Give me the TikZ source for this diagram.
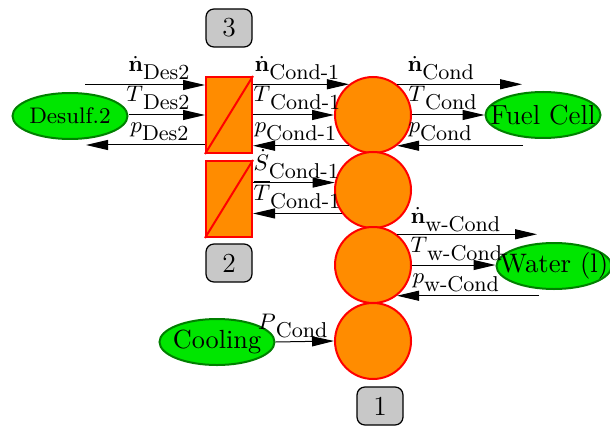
\documentclass[tikz,border=0pt]{standalone}
\usetikzlibrary{arrows.meta,shapes.geometric}
\definecolor{orng}{RGB}{255,140,0}
\definecolor{grn}{RGB}{0,230,0}
\definecolor{dgrn}{RGB}{0,128,0}
\definecolor{gbox}{RGB}{200,200,200}
\newcommand{\plbl}[2]{\raisebox{3.2pt}{\fontsize{9}{10}\selectfont$#1$}{\fontsize{8.6}{10}\selectfont #2}}
\begin{document}
\begin{tikzpicture}[x=0.4pt,y=-0.4pt,
  arr/.style={draw, line width=0.4pt, -{Triangle[length=8.8pt,width=4pt]}},
  rport/.style={inner sep=0pt, anchor=base west},
  lport/.style={inner sep=0pt, anchor=base east},
  circ/.style={circle, draw=red, fill=orng, line width=0.8pt, minimum size=30.4pt, inner sep=0pt},
  rectb/.style={rectangle, draw=red, fill=orng, line width=0.8pt, minimum width=18.4pt, minimum height=30.4pt, inner sep=0pt},
  ell/.style={ellipse, draw=dgrn, fill=grn, line width=0.8pt, minimum width=46pt, minimum height=18.4pt, inner sep=0pt},
  etxt/.style={inner sep=0pt},
  num/.style={rectangle, rounded corners=3.2pt, draw=black, fill=gbox, line width=0.5pt, minimum width=18.4pt, minimum height=15.2pt, inner sep=0pt, font=\fontsize{11}{13}\selectfont}]
\useasboundingbox (0,0) rectangle (610,425);

% numbered boxes
\node[num] (b3) at (229,28) {3};
\node[num] (b2) at (229,263) {2};
\node[num] (b1) at (380,406) {1};

% heat exchanger blocks
\node[rectb] (r1) at (229,115) {};
\draw[red, line width=0.8pt] (r1.south west) -- (r1.north east);
\node[rectb] (r2) at (229,199) {};
\draw[red, line width=0.8pt] (r2.south west) -- (r2.north east);

% circles
\node[circ] (c1) at (373,115) {};
\node[circ] (c2) at (373,190) {};
\node[circ] (c3) at (373,265) {};
\node[circ] (c4) at (373,341) {};

% ellipses
\node[ell] (des) at (70,116) {};
\node[etxt, font=\fontsize{9}{11}\selectfont] (dest) at (des) {Desulf.2};
\node[ell] (fc) at (543,115) {};
\node[etxt, font=\fontsize{11}{13}\selectfont] (fct) at (fc) {Fuel Cell};
\node[ell] (wat) at (554,266) {};
\node[etxt, font=\fontsize{10.7}{13}\selectfont] (watt) at (wat) {Water (l)};
\node[ell] (cool) at (217,342) {};
\node[etxt, font=\fontsize{10.5}{13}\selectfont] (coolt) at (cool) {Cooling};

% free ends
\coordinate (d1) at (85,85);
\coordinate (d3) at (86,145);
\coordinate (f1) at (522,85);
\coordinate (f3) at (523,145);
\coordinate (w1) at (537,236);
\coordinate (w3) at (539,296);

% Desulf <-> r1
\draw[arr] (d1) -- (r1.west |- d1);
\draw[arr] (des.east |- r1.west) -- (r1.west);
\draw[arr] (r1.west |- d3) -- (d3);
% r1 <-> c1
\draw[arr] (r1.east |- c1.128) -- (c1.128);
\draw[arr] (r1.east) -- (c1.west);
\draw[arr] (c1.232) -- (r1.east |- c1.232);
% c1 <-> fuel cell
\draw[arr] (c1.52) -- (f1 |- c1.52);
\draw[arr] (c1.east) -- (fc.west);
\draw[arr] (f3 |- c1.308) -- (c1.308);
% r2 <-> c2
\draw[arr] (r2.east |- c2.169) -- (c2.169);
\draw[arr] (c2.217) -- (r2.east |- c2.217);
% c3 <-> water
\draw[arr] (c3.52) -- (w1 |- c3.52);
\draw[arr] (c3.east) -- (c3.east -| wat.west);
\draw[arr] (w3 |- c3.308) -- (c3.308);
% cooling -> c4
\draw[arr] (cool.east) -- (c4.west);

% labels
\node[lport] (la1) at (190,80) {\plbl{\dot{\mathbf{n}}}{Des2}};
\node[lport] (la2) at (190,110) {\plbl{T}{Des2}};
\node[lport] (la3) at (189,140) {\plbl{p}{Des2}};
\node[rport] (lb1) at (254,80) {\plbl{\dot{\mathbf{n}}}{Cond-1}};
\node[rport] (lb2) at (253,110) {\plbl{T}{Cond-1}};
\node[rport] (lb3) at (254,140) {\plbl{p}{Cond-1}};
\node[rport] (lc1) at (253,178) {\plbl{\dot{S}}{Cond-1}};
\node[rport] (lc2) at (253,208) {\plbl{\overline{T}}{Cond-1}};
\node[rport] (ld1) at (407,80) {\plbl{\dot{\mathbf{n}}}{Cond}};
\node[rport] (ld2) at (408,110) {\plbl{T}{Cond}};
\node[rport] (ld3) at (408,140) {\plbl{p}{Cond}};
\node[rport] (le1) at (410,231) {\plbl{\dot{\mathbf{n}}}{w-Cond}};
\node[rport] (le2) at (410,260) {\plbl{T}{w-Cond}};
\node[rport] (le3) at (412,291) {\plbl{p}{w-Cond}};
\node[lport] (lf1) at (328,337) {\plbl{P}{Cond}};
\end{tikzpicture}
\end{document}
